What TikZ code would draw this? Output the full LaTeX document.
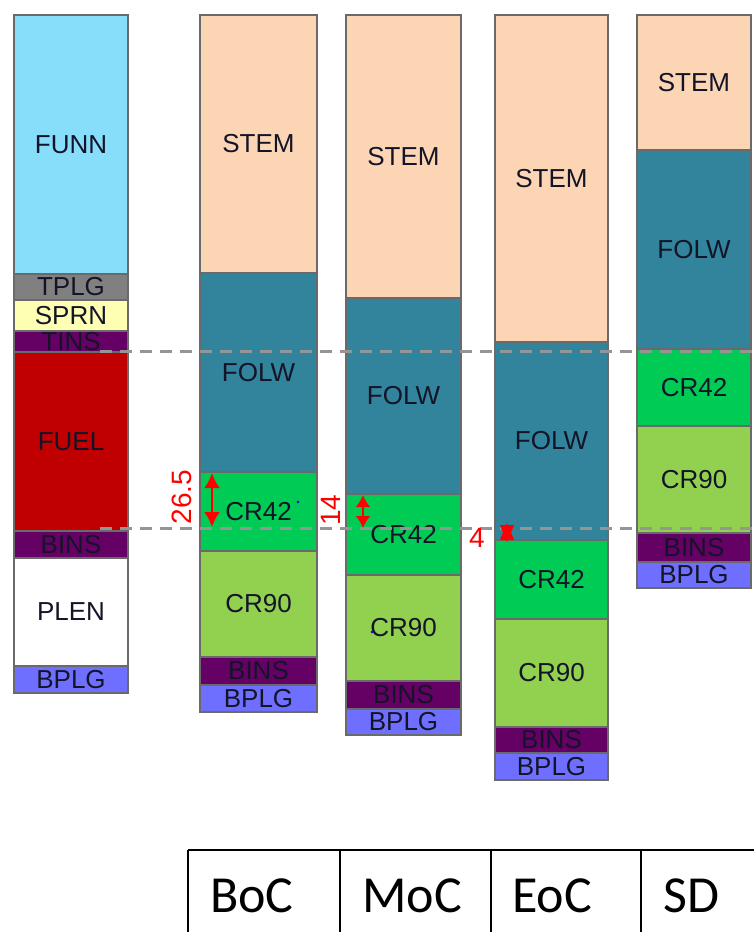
\documentclass[tikz,border=0pt]{standalone}
\usepackage{fontspec}
\setmainfont{Liberation Sans}
\newfontfamily\tablefont{Carlito}
\usetikzlibrary{arrows.meta}
\definecolor{cFUNN}{HTML}{87DEFB}
\definecolor{cTPLG}{HTML}{808080}
\definecolor{cSPRN}{HTML}{FFFFB3}
\definecolor{cINS}{HTML}{650065}
\definecolor{cFUEL}{HTML}{C00000}
\definecolor{cPLEN}{HTML}{FFFFFF}
\definecolor{cBPLG}{HTML}{6F6FFF}
\definecolor{cSTEM}{HTML}{FCD5B4}
\definecolor{cFOLW}{HTML}{31849B}
\definecolor{cCRA}{HTML}{00CC55}
\definecolor{cCRB}{HTML}{92D050}
\definecolor{cEdge}{HTML}{6A6A6A}
\definecolor{cDash}{HTML}{959595}
\definecolor{cText}{HTML}{141428}
\tikzset{
  segline/.style={draw=cEdge, line width=1.5pt},
  seglabel/.style={inner sep=0pt, text=cText, font=\fontsize{26}{28}\selectfont},
  levelline/.style={draw=cDash, line width=3pt, dash pattern=on 12pt off 8pt},
  dimarrow/.style={draw=red, line width=2.6pt},
  dimlabel/.style={inner sep=0pt, text=red, font=\fontsize{28}{30}\selectfont},
  tableline/.style={draw=black, line width=1.6pt},
  tablelabel/.style={inner sep=0pt, anchor=base west, font=\tablefont\fontsize{52}{60}\selectfont}
}
% name, x1, y1, x2, y2, colour, label
\newcommand\seg[7]{%
  \filldraw[segline, fill=#6] (#2,#3) rectangle (#4,#5);
  \node[seglabel] (#1) at ({(#2+#4)/2},{(#3+#5)/2}) {#7};}
\begin{document}
\begin{tikzpicture}[x=1pt,y=-1pt]
\useasboundingbox[fill=white] (0,0) rectangle (754,932);
% column 0
\seg{funn}{14}{15}{128}{274}{cFUNN}{FUNN}
\seg{tplg}{14}{274}{128}{300}{cTPLG}{TPLG}
\seg{sprn}{14}{300}{128}{331}{cSPRN}{SPRN}
\seg{tins}{14}{331}{128}{352}{cINS}{TINS}
\seg{fuel}{14}{352}{128}{531}{cFUEL}{FUEL}
\seg{binsz}{14}{531}{128}{558}{cINS}{BINS}
\seg{plen}{14}{558}{128}{666}{cPLEN}{PLEN}
\seg{bplgz}{14}{666}{128}{693}{cBPLG}{BPLG}
% column 1 BoC
\seg{stema}{200}{15}{317}{273}{cSTEM}{STEM}
\seg{folwa}{200}{273}{317}{472}{cFOLW}{FOLW}
\seg{craa}{200}{472}{317}{551}{cCRA}{CR42}
\seg{crba}{200}{551}{317}{657}{cCRB}{CR90}
\seg{binsa}{200}{657}{317}{685}{cINS}{BINS}
\seg{bplga}{200}{685}{317}{712}{cBPLG}{BPLG}
% column 2 MoC
\seg{stemb}{346}{15}{461}{298}{cSTEM}{STEM}
\seg{folwb}{346}{298}{461}{494}{cFOLW}{FOLW}
\seg{crab}{346}{494}{461}{575}{cCRA}{CR42}
\seg{crbb}{346}{575}{461}{681}{cCRB}{CR90}
\seg{binsb}{346}{681}{461}{709}{cINS}{BINS}
\seg{bplgb}{346}{709}{461}{735}{cBPLG}{BPLG}
% column 3 EoC
\seg{stemc}{495}{15}{608}{342}{cSTEM}{STEM}
\seg{folwc}{495}{342}{608}{540}{cFOLW}{FOLW}
\seg{crac}{495}{540}{608}{619}{cCRA}{CR42}
\seg{crbc}{495}{619}{608}{727}{cCRB}{CR90}
\seg{binsc}{495}{727}{608}{753}{cINS}{BINS}
\seg{bplgc}{495}{753}{608}{780}{cBPLG}{BPLG}
% column 4 SD
\seg{stemd}{637}{15}{751}{150}{cSTEM}{STEM}
\seg{folwd}{637}{150}{751}{349}{cFOLW}{FOLW}
\seg{crad}{637}{349}{751}{426}{cCRA}{CR42}
\seg{crbd}{637}{426}{751}{533}{cCRB}{CR90}
\seg{binsd}{637}{533}{751}{562}{cINS}{BINS}
\seg{bplgd}{637}{562}{751}{588}{cBPLG}{BPLG}
% small blue dots
\fill[blue] (298,502) circle (1.3);
\fill[blue] (372,632) circle (1.3);
% level lines
\coordinate (upL) at (100,351);
\coordinate (upR) at (754,351);
\coordinate (loL) at (100,528);
\coordinate (loR) at (754,528);
\draw[levelline] (upL) -- (upR);
\draw[levelline] (loL) -- (loR);
% dimension arrows
\coordinate (aTop) at (212,473);
\coordinate (aBot) at (212,527);
\draw[dimarrow, {Latex[length=15pt,width=16pt]}-{Latex[length=15pt,width=16pt]}] (aTop) -- (aBot);
\node[dimlabel, rotate=90] (lA) at (182,497) {26.5};
\coordinate (bTop) at (363,495);
\coordinate (bBot) at (363,528);
\draw[dimarrow, {Latex[length=12pt,width=15pt]}-{Latex[length=12pt,width=15pt]}] (bTop) -- (bBot);
\node[dimlabel, rotate=90] (lB) at (331,510) {14};
\coordinate (cTop) at (507,523);
\coordinate (cBot) at (507,542);
\draw[dimarrow, line width=1pt, {Triangle[length=17pt,width=14pt]}-{Triangle[length=17pt,width=14pt]}] (cTop) -- (cBot);
\node[dimlabel] (lC) at (477,538) {4};
% table
\coordinate (tTL) at (188,850);
\coordinate (tTR) at (754,850);
\draw[tableline] (tTL) -- (tTR);
\foreach \xx in {188,340,491,641} {
  \draw[tableline] (\xx,850) -- (\xx,932);
}
\node[tablelabel] (boc) at (210,912) {BoC};
\node[tablelabel] (moc) at (362,912) {MoC};
\node[tablelabel] (eoc) at (512,912) {EoC};
\node[tablelabel] (sd) at (663,912) {SD};
\end{tikzpicture}
\end{document}
